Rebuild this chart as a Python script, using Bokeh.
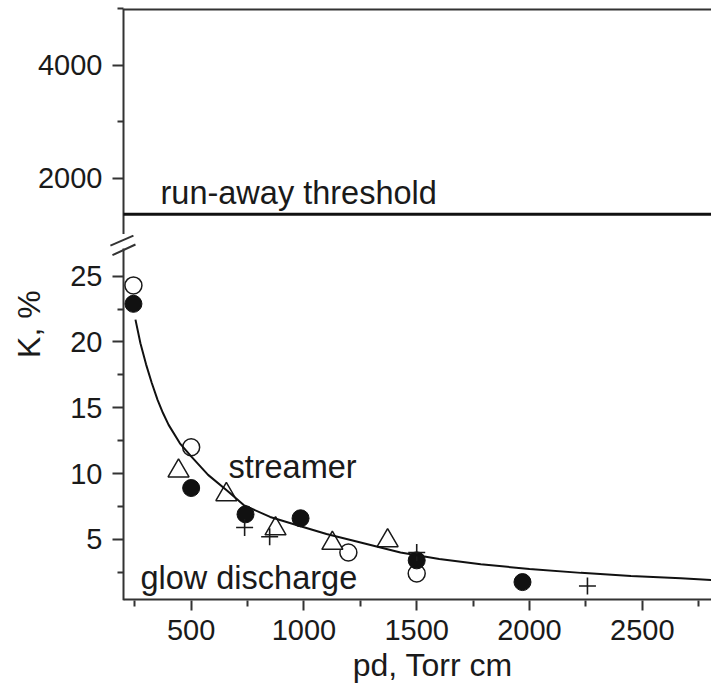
from bokeh.plotting import figure
from bokeh.layouts import column
from bokeh.models import FixedTicker, Label, Range1d
from bokeh.embed import file_html
from bokeh.resources import INLINE

# ---------------- data ----------------
open_circle_pd = [244, 500, 1197, 1500]
open_circle_k = [24.3, 12.0, 4.0, 2.4]

filled_circle_pd = [244, 500, 741, 985, 1500, 1969]
filled_circle_k = [22.9, 8.9, 6.9, 6.6, 3.4, 1.75]

triangle_pd = [444, 656, 874, 1126, 1371]
triangle_k = [10.2, 8.4, 5.8, 4.7, 4.9]

cross_pd = [737, 848, 1500, 2257]
cross_k = [5.9, 5.2, 4.0, 1.45]

fit_pd = [253, 275, 300, 325, 351, 375, 400, 450, 500, 575, 660, 733, 850, 985,
          1100, 1207, 1428, 1600, 1784, 2000, 2228, 2450, 2671, 2810]
fit_k = [21.7, 19.9, 18.3, 16.9, 15.6, 14.6, 13.7, 12.3, 11.3, 9.9, 8.7, 7.6, 6.7,
         6.0, 5.4, 4.95, 4.0, 3.5, 3.1, 2.75, 2.45, 2.22, 2.05, 1.9]

runaway_threshold = 1360

x_major = [500, 1000, 1500, 2000, 2500]
x_minor = [250, 750, 1250, 1750, 2250, 2750]
k_major = [5, 10, 15, 20, 25]
k_minor = [2.5, 7.5, 12.5, 17.5, 22.5]
top_major = [2000, 4000]
top_minor = [3000, 5000]

FONT = "Liberation Sans"
INK = "#1a1a1a"
AXIS = "#333333"
NB = "\u00a0"

PD_MIN, PD_MAX = 200, 2807
FRAME_PD_MIN = 98            # frame starts a little left of the axis line
K_MIN, K_MAX = 0.35, 28.17
K_BREAK = 27.1
TOP_MIN, TOP_MAX = 1000, 5000


def style_axis(ax, major_len, minor_len, standoff):
    ax.axis_line_color = AXIS
    ax.axis_line_width = 2
    ax.major_tick_line_color = AXIS
    ax.major_tick_line_width = 2
    ax.minor_tick_line_color = AXIS
    ax.minor_tick_line_width = 2
    ax.major_tick_in = 0
    ax.major_tick_out = major_len
    ax.minor_tick_in = 0
    ax.minor_tick_out = minor_len
    ax.major_label_text_font = FONT
    ax.major_label_text_font_size = "29px"
    ax.major_label_text_color = INK
    ax.major_label_standoff = standoff


def shifted_y_axis(ax):
    # the axis line sits 23 px right of the frame edge: move ticks onto it
    ax.axis_line_color = None
    ax.major_tick_in = 23
    ax.major_tick_out = -12
    ax.minor_tick_in = 23
    ax.minor_tick_out = -17


x_range = Range1d(FRAME_PD_MIN, PD_MAX)

# ---------------- top panel ----------------
top = figure(width=711, height=234, x_range=x_range,
             y_range=Range1d(TOP_MIN, TOP_MAX),
             output_backend="svg", toolbar_location=None,
             x_axis_location=None, y_axis_location="left",
             min_border_left=100, min_border_right=0, min_border_top=8,
             min_border_bottom=0)
top.outline_line_color = None
top.grid.visible = False
ty = top.yaxis[0]
ty.ticker = FixedTicker(ticks=top_major, minor_ticks=top_minor)
style_axis(ty, 11, 6, 10)
shifted_y_axis(ty)

top.line([PD_MIN, PD_MIN], [TOP_MIN, TOP_MAX], line_color=AXIS, line_width=2)
top.line([PD_MIN, PD_MAX], [TOP_MAX, TOP_MAX], line_color=AXIS, line_width=4)
top.line([PD_MIN, PD_MAX], [runaway_threshold, runaway_threshold],
         line_color="#111111", line_width=3)
top.add_layout(Label(x=364, y=1735, text="run-away threshold",
                     text_font=FONT, text_font_size="32.5px", text_color=INK,
                     text_baseline="alphabetic", text_align="left"))

# ---------------- bottom panel ----------------
bot = figure(width=711, height=451, x_range=x_range,
             y_range=Range1d(K_MIN, K_MAX),
             output_backend="svg", toolbar_location=None,
             min_border_left=100, min_border_right=0, min_border_top=0,
             min_border_bottom=0)
bot.outline_line_color = None
bot.grid.visible = False

ky = bot.yaxis[0]
ky.ticker = FixedTicker(ticks=k_major, minor_ticks=k_minor)
style_axis(ky, 11, 6, 10)
shifted_y_axis(ky)
ky.axis_label = NB * 21 + "K, %"
ky.axis_label_text_font = FONT
ky.axis_label_text_font_size = "32px"
ky.axis_label_text_font_style = "normal"
ky.axis_label_text_color = INK
ky.axis_label_standoff = 20

kx = bot.xaxis[0]
kx.ticker = FixedTicker(ticks=x_major, minor_ticks=x_minor)
style_axis(kx, 10, 6, 9)
kx.axis_line_color = None
kx.axis_label = NB * 6 + "pd, Torr cm"
kx.axis_label_text_font = FONT
kx.axis_label_text_font_size = "32px"
kx.axis_label_text_font_style = "normal"
kx.axis_label_text_color = INK
kx.axis_label_standoff = 4

# axis lines (drawn as lines so the K axis can have its break)
bot.line([PD_MIN, PD_MIN], [K_MIN, K_BREAK], line_color=AXIS, line_width=2)
bot.line([PD_MIN, PD_MAX], [K_MIN, K_MIN], line_color=AXIS, line_width=4)
# break marks
bot.segment(x0=[142, 151], y0=[27.33, 26.6], x1=[244, 253], y1=[28.09, 27.41],
            line_color=AXIS, line_width=2)

bot.scatter(open_circle_pd, open_circle_k, marker="circle", size=17,
            fill_color="white", line_color=INK, line_width=1.5)
bot.scatter(filled_circle_pd, filled_circle_k, marker="circle", size=17,
            fill_color="#111111", line_color="#111111", line_width=1)
bot.scatter(triangle_pd, triangle_k, marker="triangle", size=21,
            fill_color="white", line_color=INK, line_width=1.5)
bot.scatter(cross_pd, cross_k, marker="cross", size=17,
            line_color=INK, line_width=1.6)
bot.line(fit_pd, fit_k, line_color="#111111", line_width=2)

bot.add_layout(Label(x=665, y=10.49, text="streamer", text_font=FONT,
                     text_font_size="32.5px", text_color=INK,
                     text_baseline="alphabetic"))
bot.add_layout(Label(x=275, y=2.03, text="glow discharge", text_font=FONT,
                     text_font_size="32.5px", text_color=INK,
                     text_baseline="alphabetic"))

layout = column(top, bot, spacing=0)
open("out.html", "w").write(file_html(layout, INLINE))
